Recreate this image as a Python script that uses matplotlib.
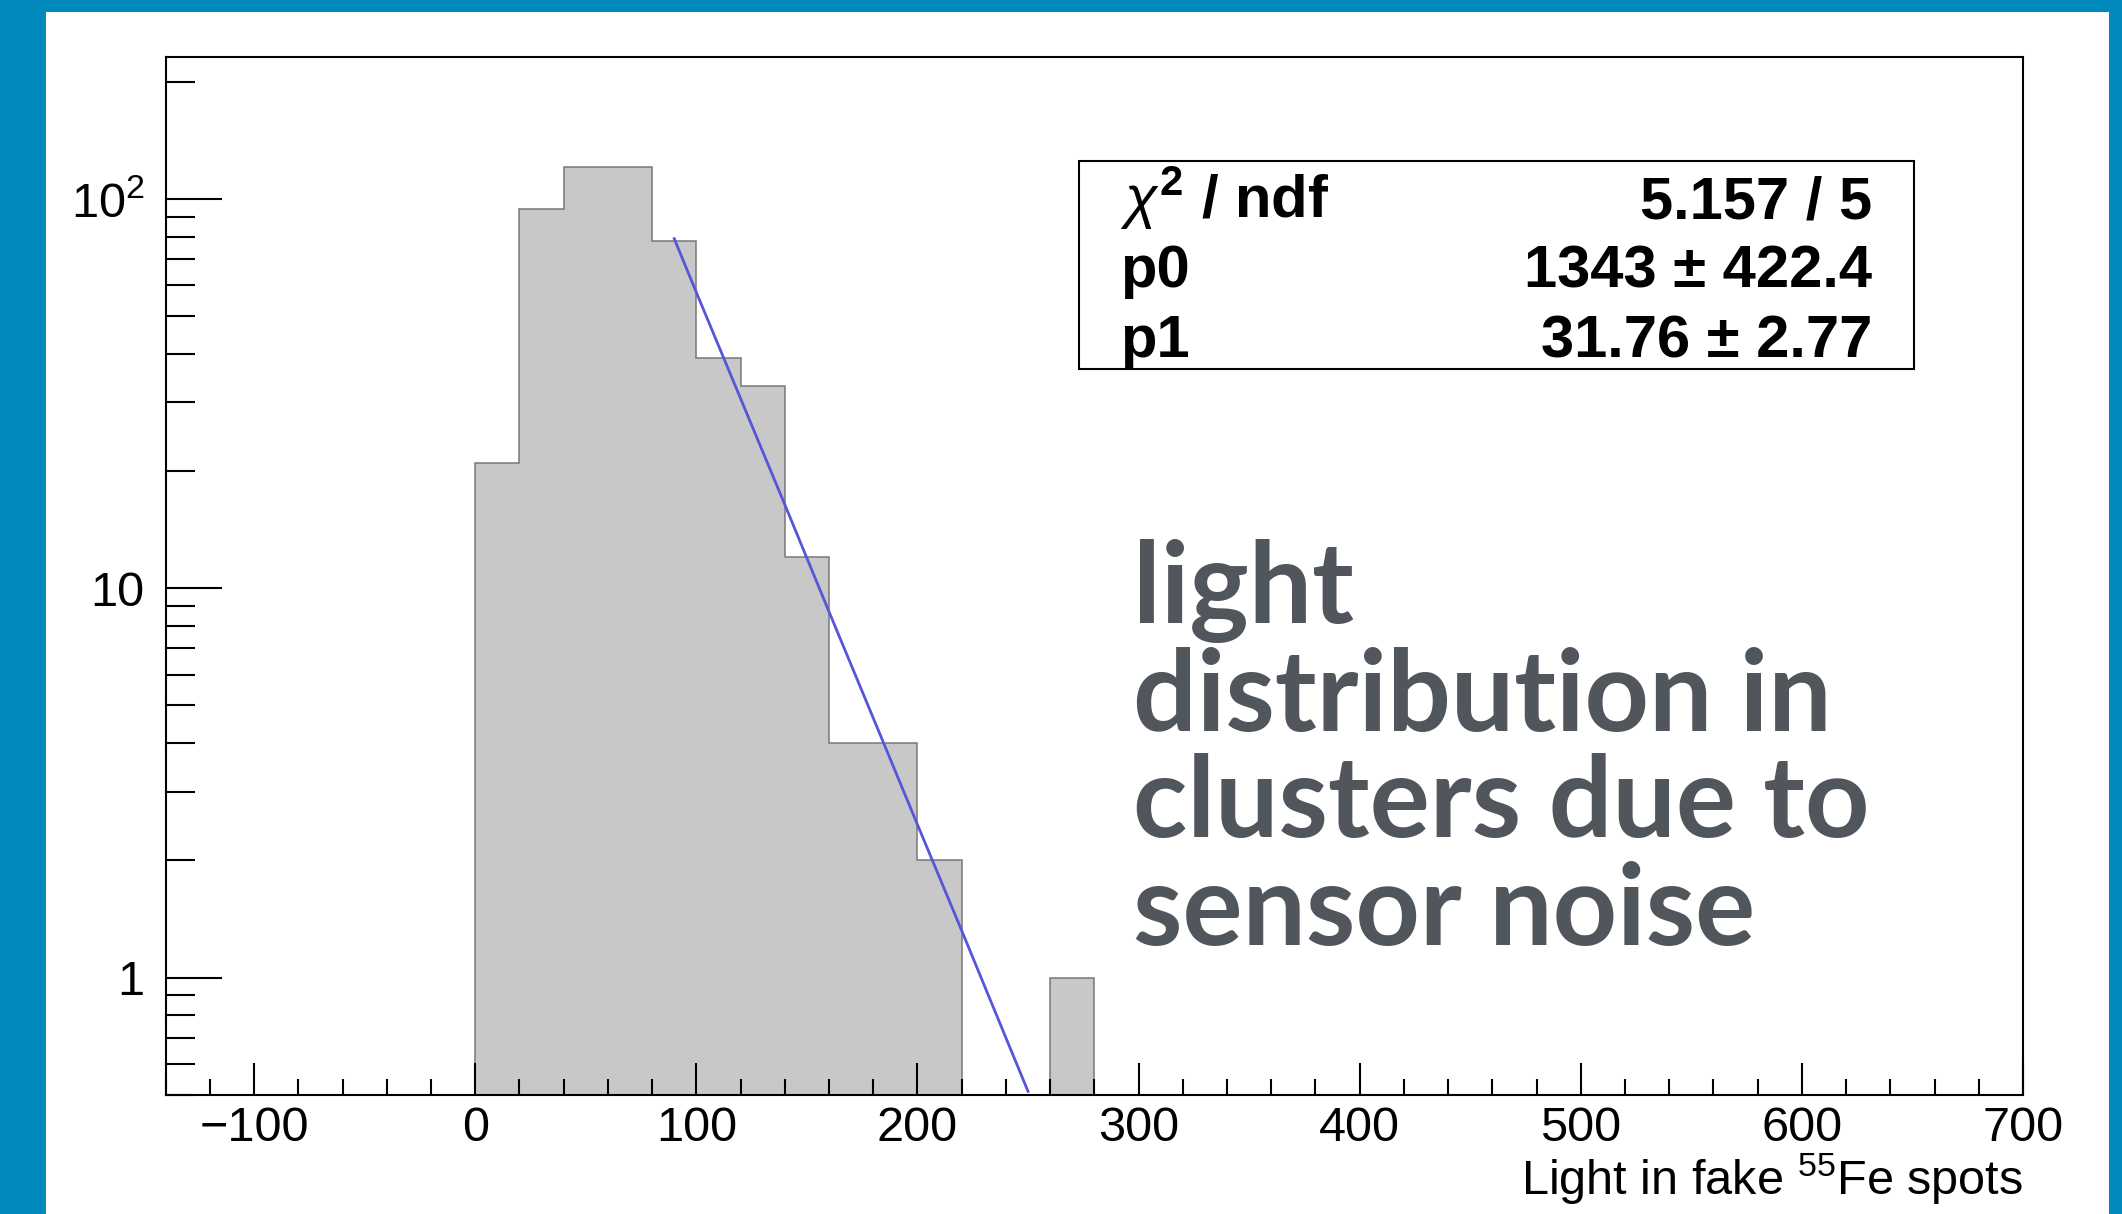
import numpy as np
import matplotlib
matplotlib.use("Agg")
import matplotlib.pyplot as plt
from matplotlib.patches import Rectangle
from matplotlib.ticker import FixedLocator, FixedFormatter, LogLocator, NullFormatter, MultipleLocator

plt.rcParams["font.family"] = "Liberation Sans"
plt.rcParams["mathtext.fontset"] = "custom"
plt.rcParams["mathtext.rm"] = "Liberation Sans"
plt.rcParams["mathtext.it"] = "Liberation Sans:italic"
plt.rcParams["mathtext.bf"] = "Liberation Sans:bold"

# histogram: bin edges and counts
bin_edges = [0, 20, 40, 60, 80, 100, 120, 140, 160, 180, 200, 220, 240, 260, 280]
counts = [21, 94, 121, 121, 78, 39, 33, 12, 4, 4, 2, 0, 0, 1]

# fitted exponential, points
fit_x = [90, 100, 120, 140, 160, 180, 200, 220, 240, 250]
fit_y = [79, 57.5, 30.7, 16.4, 8.7, 4.64, 2.47, 1.32, 0.70, 0.51]

# fit statistics box
stats_labels = [r"$\chi^{\mathbf{2}}$ / ndf", "p0", "p1"]
stats_values = ["5.157 / 5", "1343 ± 422.4", "31.76 ± 2.77"]

x_ticks = [-100, 0, 100, 200, 300, 400, 500, 600, 700]
x_tick_labels = ["\u2212100", "0", "100", "200", "300", "400", "500", "600", "700"]
y_ticks = [1, 10, 100]
y_tick_labels = ["1", "10", r"$\mathregular{10^{2}}$"]
x_title = r"Light in fake $^{\mathregular{55}}$Fe spots"

note_lines = ["light", "distribution in", "clusters due to", "sensor noise"]

W, H = 2122, 1214
fig = plt.figure(figsize=(W / 100, H / 100), dpi=100, facecolor="#0089bb")

# white page inside the blue frame
fig.add_artist(Rectangle((46 / W, 0), (2109 - 46) / W, 1 - 12 / H,
                         transform=fig.transFigure, facecolor="white",
                         edgecolor="none", zorder=-1))

ax = fig.add_axes([165.7 / W, 1 - 1094.7 / H, (2023 - 165.7) / W, (1094.7 - 57.3) / H])
ax.set_facecolor("white")
ax.set_yscale("log")

ax.stairs(counts, bin_edges, fill=True, baseline=0, facecolor="#c8c8c8",
          edgecolor="none")
ax.stairs(counts, bin_edges, fill=False, baseline=0, edgecolor="#787878", linewidth=1.1)
ax.plot(fit_x, fit_y, color="#5656d8", linewidth=2.0)

ax.set_xlim(-140, 700)
ax.set_ylim(0.5, 231)

ax.xaxis.set_major_locator(FixedLocator(x_ticks))
ax.xaxis.set_major_formatter(FixedFormatter(x_tick_labels))
ax.xaxis.set_minor_locator(MultipleLocator(20))
ax.yaxis.set_major_locator(FixedLocator(y_ticks))
ax.yaxis.set_major_formatter(FixedFormatter(y_tick_labels))
ax.yaxis.set_minor_locator(LogLocator(base=10, subs=np.arange(2, 10), numticks=20))
ax.yaxis.set_minor_formatter(NullFormatter())

ax.tick_params(axis="x", which="major", direction="in", length=23, width=1.5,
               labelsize=35, pad=8, top=False)
ax.tick_params(axis="x", which="minor", direction="in", length=11.5, width=1.5, top=False)
ax.tick_params(axis="y", which="major", direction="in", length=40, width=1.5,
               labelsize=35, pad=15, right=False)
ax.tick_params(axis="y", which="minor", direction="in", length=21, width=1.5, right=False)
for s in ax.spines.values():
    s.set_linewidth(1.5)

fig.text(2023 / W, 1 - 1195 / H, x_title, ha="right", va="baseline", fontsize=35)

# stats box
bx0, bx1, by0, by1 = 1079, 1914, 161, 369
fig.add_artist(Rectangle((bx0 / W, 1 - by1 / H), (bx1 - bx0) / W, (by1 - by0) / H,
                         transform=fig.transFigure, facecolor="white",
                         edgecolor="black", linewidth=1.5, zorder=3))
baselines = [218, 287, 357]
for lab, val, b in zip(stats_labels, stats_values, baselines):
    fig.text(1120 / W, 1 - b / H, lab, ha="left", va="baseline",
             fontsize=43, fontweight="bold", zorder=4)
    fig.text(1872 / W, 1 - b / H, val, ha="right", va="baseline",
             fontsize=43, fontweight="bold", zorder=4)

# annotation text
note_baselines = [623, 731, 837, 945]
for line, b in zip(note_lines, note_baselines):
    fig.text(1133 / W, 1 - b / H, line, ha="left", va="baseline", fontsize=81,
             fontweight="bold", family="Lato", color="#51565d")

fig.savefig("out.png", dpi=100, facecolor=fig.get_facecolor())
